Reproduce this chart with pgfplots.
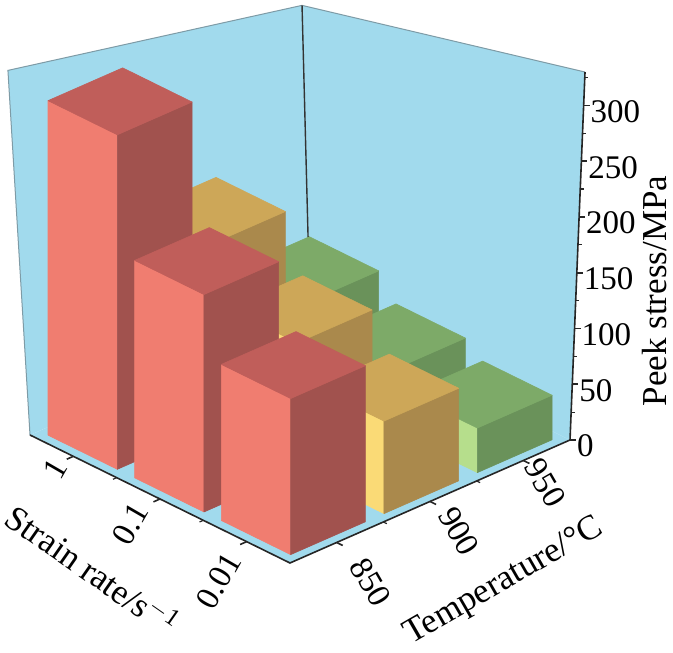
\documentclass[border=0pt]{standalone}
\usepackage{pgfplots}
\pgfplotsset{compat=1.18}
\usepackage{fontspec}
\setmainfont{Liberation Serif}
\definecolor{wall}{HTML}{A1DAED}
\definecolor{wedge}{HTML}{7E9BA6}
\definecolor{rL}{HTML}{F07D70}\definecolor{rT}{HTML}{C05E5A}\definecolor{rD}{HTML}{A1524E}
\definecolor{yL}{HTML}{FADA76}\definecolor{yT}{HTML}{CDA758}\definecolor{yD}{HTML}{AA894C}
\definecolor{gL}{HTML}{B6DE8C}\definecolor{gT}{HTML}{7DAA68}\definecolor{gD}{HTML}{6A925A}
\tikzset{face/.style={fill=#1, draw=#1, line width=0.3pt, line join=round}}
\begin{document}
\begin{tikzpicture}[font=\fontsize{16.5}{19}\selectfont]
\begin{axis}[x={(43.33pt,-21.33pt)}, y={(46.67pt,20.5pt)}, z={(0pt,0.5575pt)},
  xmin=0.5,xmax=3.5,ymin=0.5,ymax=3.5,zmin=0,zmax=330,
  hide axis, clip=false]
\coordinate (Lc) at (axis cs:0.5,0.5,0);
% walls and floor
\fill[wall] (axis cs:0.5,0.5,0) -- (axis cs:0.5,3.5,0) -- (axis cs:0.4565,3.4547,275) -- (axis cs:0.38,0.375,327) -- cycle;
\fill[wall] (axis cs:0.5,3.5,0) -- (axis cs:3.5,3.5,0) -- (axis cs:3.5816,3.585,330) -- (axis cs:0.4565,3.4547,275) -- cycle;
\fill[wall] (axis cs:0.5,0.5,0) -- (axis cs:3.5,0.5,0) -- (axis cs:3.5,3.5,0) -- (axis cs:0.5,3.5,0) -- cycle;
\draw[wedge, line width=0.5pt] (axis cs:0.5,0.5,0) -- (axis cs:0.38,0.375,327) -- (axis cs:0.4565,3.4547,275) -- (axis cs:3.5816,3.585,330);
\draw[black!80, line width=0.7pt] (axis cs:0.5,3.5,0) -- (axis cs:0.4565,3.4547,275);
% bars, back to front
% (1,950) green 75
\addplot3[face=gL] coordinates {(0.6,2.6,0) (1.4,2.6,0) (1.4,2.6,75) (0.6,2.6,75)} -- cycle;
\addplot3[face=gD] coordinates {(1.4,2.6,0) (1.4,3.4,0) (1.4,3.4,75) (1.4,2.6,75)} -- cycle;
\addplot3[face=gT] coordinates {(0.6,2.6,75) (1.4,2.6,75) (1.4,3.4,75) (0.6,3.4,75)} -- cycle;
% (1,900) yellow 165
\addplot3[face=yL] coordinates {(0.6,1.6,0) (1.4,1.6,0) (1.4,1.6,165) (0.6,1.6,165)} -- cycle;
\addplot3[face=yD] coordinates {(1.4,1.6,0) (1.4,2.4,0) (1.4,2.4,165) (1.4,1.6,165)} -- cycle;
\addplot3[face=yT] coordinates {(0.6,1.6,165) (1.4,1.6,165) (1.4,2.4,165) (0.6,2.4,165)} -- cycle;
% (0.1,950) green 53
\addplot3[face=gL] coordinates {(1.6,2.6,0) (2.4,2.6,0) (2.4,2.6,53) (1.6,2.6,53)} -- cycle;
\addplot3[face=gD] coordinates {(2.4,2.6,0) (2.4,3.4,0) (2.4,3.4,53) (2.4,2.6,53)} -- cycle;
\addplot3[face=gT] coordinates {(1.6,2.6,53) (2.4,2.6,53) (2.4,3.4,53) (1.6,3.4,53)} -- cycle;
% (1,850) red 300
\addplot3[face=rL] coordinates {(0.6,0.6,0) (1.4,0.6,0) (1.4,0.6,300) (0.6,0.6,300)} -- cycle;
\addplot3[face=rD] coordinates {(1.4,0.6,0) (1.4,1.4,0) (1.4,1.4,300) (1.4,0.6,300)} -- cycle;
\addplot3[face=rT] coordinates {(0.6,0.6,300) (1.4,0.6,300) (1.4,1.4,300) (0.6,1.4,300)} -- cycle;
% (0.1,900) yellow 115
\addplot3[face=yL] coordinates {(1.6,1.6,0) (2.4,1.6,0) (2.4,1.6,115) (1.6,1.6,115)} -- cycle;
\addplot3[face=yD] coordinates {(2.4,1.6,0) (2.4,2.4,0) (2.4,2.4,115) (2.4,1.6,115)} -- cycle;
\addplot3[face=yT] coordinates {(1.6,1.6,115) (2.4,1.6,115) (2.4,2.4,115) (1.6,2.4,115)} -- cycle;
% (0.01,950) green 40
\addplot3[face=gL] coordinates {(2.6,2.6,0) (3.4,2.6,0) (3.4,2.6,40) (2.6,2.6,40)} -- cycle;
\addplot3[face=gD] coordinates {(3.4,2.6,0) (3.4,3.4,0) (3.4,3.4,40) (3.4,2.6,40)} -- cycle;
\addplot3[face=gT] coordinates {(2.6,2.6,40) (3.4,2.6,40) (3.4,3.4,40) (2.6,3.4,40)} -- cycle;
% (0.1,850) red 195
\addplot3[face=rL] coordinates {(1.6,0.6,0) (2.4,0.6,0) (2.4,0.6,195) (1.6,0.6,195)} -- cycle;
\addplot3[face=rD] coordinates {(2.4,0.6,0) (2.4,1.4,0) (2.4,1.4,195) (2.4,0.6,195)} -- cycle;
\addplot3[face=rT] coordinates {(1.6,0.6,195) (2.4,0.6,195) (2.4,1.4,195) (1.6,1.4,195)} -- cycle;
% (0.01,900) yellow 83
\addplot3[face=yL] coordinates {(2.6,1.6,0) (3.4,1.6,0) (3.4,1.6,83) (2.6,1.6,83)} -- cycle;
\addplot3[face=yD] coordinates {(3.4,1.6,0) (3.4,2.4,0) (3.4,2.4,83) (3.4,1.6,83)} -- cycle;
\addplot3[face=yT] coordinates {(2.6,1.6,83) (3.4,1.6,83) (3.4,2.4,83) (2.6,2.4,83)} -- cycle;
% (0.01,850) red 140
\addplot3[face=rL] coordinates {(2.6,0.6,0) (3.4,0.6,0) (3.4,0.6,140) (2.6,0.6,140)} -- cycle;
\addplot3[face=rD] coordinates {(3.4,0.6,0) (3.4,1.4,0) (3.4,1.4,140) (3.4,0.6,140)} -- cycle;
\addplot3[face=rT] coordinates {(2.6,0.6,140) (3.4,0.6,140) (3.4,1.4,140) (2.6,1.4,140)} -- cycle;
% front floor edges
\draw[black!85, line width=0.8pt] (axis cs:0.5,0.5,0) -- (axis cs:3.5,0.5,0) -- (axis cs:3.5,3.5,0);
\pgfplotsinvokeforeach{1,2,3}{
  \draw[black!85, line width=0.8pt] (axis cs:#1,0.5,0) -- (axis cs:#1,0.43,0);
  \draw[black!85, line width=0.8pt] (axis cs:3.5,#1,0) -- (axis cs:3.57,#1,0);
}
\pgfplotsinvokeforeach{1.5,2.5}{
  \draw[black!85, line width=0.6pt] (axis cs:#1,0.5,0) -- (axis cs:#1,0.46,0);
  \draw[black!85, line width=0.6pt] (axis cs:3.5,#1,0) -- (axis cs:3.54,#1,0);
}
\node[rotate=60, anchor=east] at (axis cs:0.934,0.454,0) {1};
\node[rotate=60, anchor=east] at (axis cs:1.926,0.397,0) {0.1};
\node[rotate=60, anchor=east] at (axis cs:3.045,0.35,0) {0.01};
\node[rotate=-60, anchor=west] at (axis cs:3.747,0.964,0) {850};
\node[rotate=-60, anchor=west] at (axis cs:3.596,2.051,0) {900};
\node[rotate=-60, anchor=west] at (axis cs:3.471,3.092,0) {950};
% z axis
\draw[black!85, line width=0.8pt] (axis cs:3.5,3.5,0) -- (axis cs:3.5816,3.585,330);
\pgfplotsinvokeforeach{0,50,100,150,200,250,300}{
  \draw[black!85, line width=0.8pt] (axis cs:{3.5+0.0816*#1/330},{3.5+0.085*#1/330},#1) -- ([xshift=3pt]axis cs:{3.5+0.0816*#1/330},{3.5+0.085*#1/330},#1);
  \node[anchor=west, xshift=0pt, yshift=-3pt] at (axis cs:{3.5+0.0816*#1/330},{3.5+0.085*#1/330},#1) {#1};
}
\pgfplotsinvokeforeach{25,75,125,175,225,275,325}{
  \draw[black!85, line width=0.6pt] (axis cs:{3.5+0.0816*#1/330},{3.5+0.085*#1/330},#1) -- ([xshift=1.8pt]axis cs:{3.5+0.0816*#1/330},{3.5+0.085*#1/330},#1);
}
\end{axis}
\begin{scope}[font=\fontsize{17.5}{20}\selectfont]
\node[rotate=-35] at ([shift={(31.5pt,-67pt)}]Lc) {Strain rate/s\textsuperscript{$-$1}};
\node[rotate=30] at ([shift={(237pt,-73.5pt)}]Lc) {Temperature/°C};
\node[rotate=90] at ([shift={(312.5pt,72pt)}]Lc) {Peek stress/MPa};
\end{scope}
\pgfresetboundingbox
\path[use as bounding box] ([shift={(-15pt,-108.5pt)}]Lc) rectangle ([shift={(321.5pt,217.5pt)}]Lc);
\end{tikzpicture}
\end{document}
